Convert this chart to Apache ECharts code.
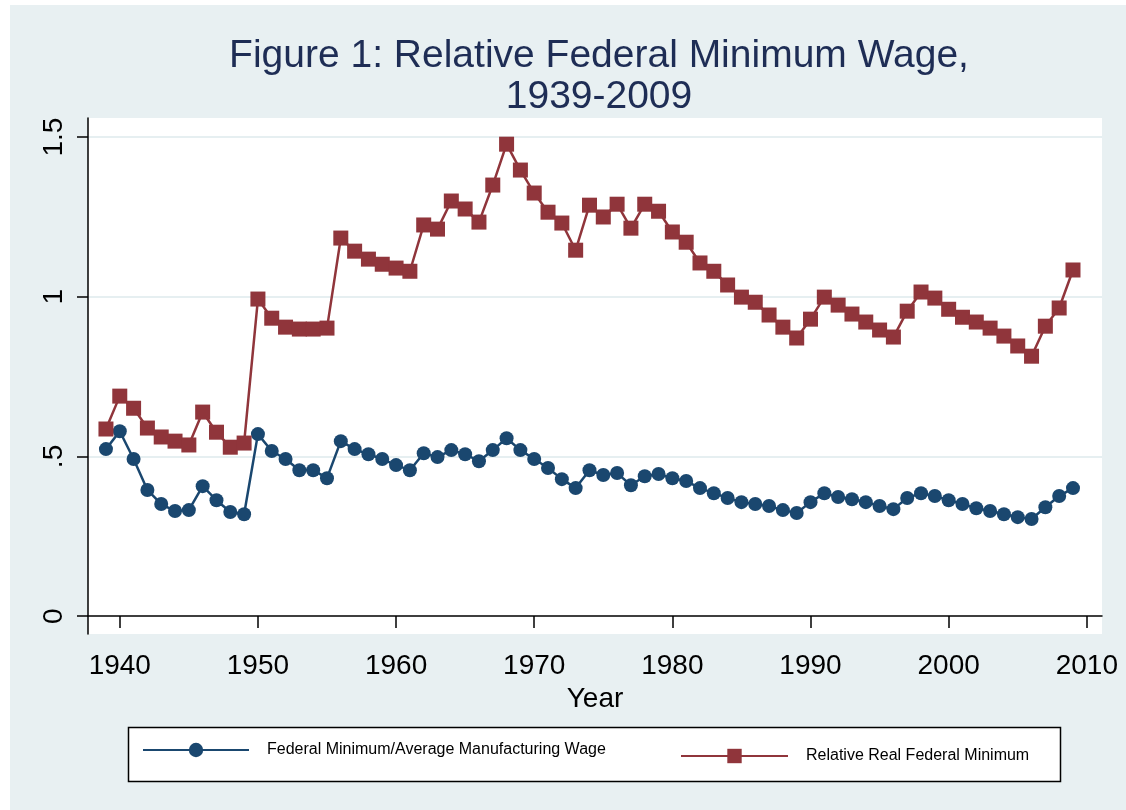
<!DOCTYPE html>
<html>
<head>
<meta charset="utf-8">
<script src="https://cdn.jsdelivr.net/npm/echarts@6/dist/echarts.min.js"></script>
<style>
  html, body { margin: 0; padding: 0; background: #fff; }
  #chart { width: 1126px; height: 810px; }
</style>
</head>
<body>
<div id="chart"></div>
<script>
const years = []
for (let y = 1939; y <= 2009; y++) years.push(y)

// Federal Minimum / Average Manufacturing Wage
const mfgRatio = [
  0.523, 0.579, 0.492, 0.395, 0.351, 0.329, 0.332, 0.407, 0.363, 0.326,
  0.319, 0.570, 0.517, 0.492, 0.457, 0.457, 0.432, 0.548, 0.523, 0.507,
  0.492, 0.473, 0.457, 0.510, 0.498, 0.520, 0.507, 0.485, 0.520, 0.557,
  0.520, 0.492, 0.464, 0.429, 0.401, 0.457, 0.442, 0.448, 0.410, 0.438,
  0.445, 0.432, 0.423, 0.401, 0.385, 0.370, 0.357, 0.351, 0.345, 0.332,
  0.323, 0.357, 0.385, 0.373, 0.366, 0.357, 0.345, 0.335, 0.370, 0.385,
  0.376, 0.363, 0.351, 0.338, 0.329, 0.319, 0.310, 0.304, 0.341, 0.376,
  0.401
]

// Relative Real Federal Minimum
const realRel = [
  0.586, 0.689, 0.651, 0.589, 0.561, 0.548, 0.536, 0.639, 0.576, 0.529,
  0.542, 0.993, 0.933, 0.905, 0.899, 0.899, 0.902, 1.184, 1.143, 1.118,
  1.102, 1.090, 1.080, 1.225, 1.212, 1.300, 1.275, 1.234, 1.350, 1.478,
  1.397, 1.325, 1.265, 1.231, 1.146, 1.287, 1.250, 1.290, 1.215, 1.290,
  1.268, 1.203, 1.171, 1.106, 1.080, 1.037, 0.999, 0.983, 0.943, 0.905,
  0.871, 0.930, 0.999, 0.974, 0.946, 0.921, 0.896, 0.874, 0.955, 1.015,
  0.996, 0.961, 0.936, 0.921, 0.902, 0.877, 0.846, 0.814, 0.908, 0.965,
  1.084
]

const xTicks = [1940, 1950, 1960, 1970, 1980, 1990, 2000, 2010]
const yTicks = [0, 0.5, 1, 1.5]
const yTickLabels = { 0: '0', 0.5: '.5', 1: '1', 1.5: '1.5' }

const seriesNames = ['Federal Minimum/Average Manufacturing Wage', 'Relative Real Federal Minimum']
const blue = '#1a476f'
const red = '#90353b'
const font = 'Liberation Sans, Arial, sans-serif'

const chart = echarts.init(document.getElementById('chart'))
chart.setOption({
  backgroundColor: '#ffffff',
  animation: false,
  graphic: [
    {
      type: 'rect', z: -10, silent: true,
      shape: { x: 10, y: 5, width: 1116, height: 805 },
      style: { fill: '#e8f0f2' }
    },
    {
      type: 'rect', z: -5, silent: true,
      shape: { x: 128.5, y: 727.5, width: 932, height: 54 },
      style: { fill: '#ffffff', stroke: '#000000', lineWidth: 1.5 }
    }
  ],
  title: {
    text: 'Figure 1: Relative Federal Minimum Wage,\n1939-2009',
    left: 594,
    top: 31,
    textAlign: 'center',
    textStyle: {
      fontFamily: font, fontSize: 39, fontWeight: 'normal',
      color: '#1e2d55', lineHeight: 41
    }
  },
  legend: [
    {
      data: [seriesNames[0]], left: 142, top: 742, padding: 0,
      itemWidth: 106, itemHeight: 18,
      textStyle: { fontFamily: font, fontSize: 16, color: '#000', padding: [0, 0, 0, 13] }
    },
    {
      data: [seriesNames[1]], left: 680, top: 748, padding: 0,
      itemWidth: 107, itemHeight: 18,
      textStyle: { fontFamily: font, fontSize: 16, color: '#000', padding: [0, 0, 0, 13] }
    }
  ],
  grid: {
    left: 88, right: 24, top: 118, bottom: 176,
    show: true, backgroundColor: '#ffffff', borderWidth: 0
  },
  xAxis: {
    type: 'value',
    min: 1937.7,
    max: 2011.1,
    name: 'Year',
    nameLocation: 'middle',
    nameGap: 45,
    nameTextStyle: { fontFamily: font, fontSize: 28, color: '#000' },
    axisLine: { lineStyle: { color: '#000', width: 1.5 } },
    axisTick: { customValues: xTicks, length: 12, lineStyle: { color: '#000', width: 1.5 } },
    axisLabel: {
      customValues: xTicks, margin: 18,
      fontFamily: font, fontSize: 28, color: '#000',
      formatter: v => String(v)
    },
    splitLine: { show: false }
  },
  yAxis: {
    type: 'value',
    min: -0.056,
    max: 1.56,
    axisLine: { show: true, lineStyle: { color: '#000', width: 1.5 } },
    axisTick: { show: true, customValues: yTicks, length: 11, lineStyle: { color: '#000', width: 1.5 } },
    axisLabel: {
      customValues: yTicks, rotate: 90, margin: 20,
      fontFamily: font, fontSize: 28, color: '#000',
      formatter: v => yTickLabels[v] !== undefined ? yTickLabels[v] : String(v)
    },
    splitLine: { show: true, showMinLine: false, lineStyle: { color: '#e6eff1', width: 2 } }
  },
  series: [
    {
      name: seriesNames[0],
      type: 'line',
      data: years.map((y, i) => [y, mfgRatio[i]]),
      symbol: 'circle',
      symbolSize: 14,
      color: blue,
      lineStyle: { color: blue, width: 2.5 },
      itemStyle: { color: blue }
    },
    {
      name: seriesNames[1],
      type: 'line',
      data: years.map((y, i) => [y, realRel[i]]),
      symbol: 'rect',
      symbolSize: 15,
      color: red,
      lineStyle: { color: red, width: 2.5 },
      itemStyle: { color: red }
    }
  ]
})
</script>
</body>
</html>
